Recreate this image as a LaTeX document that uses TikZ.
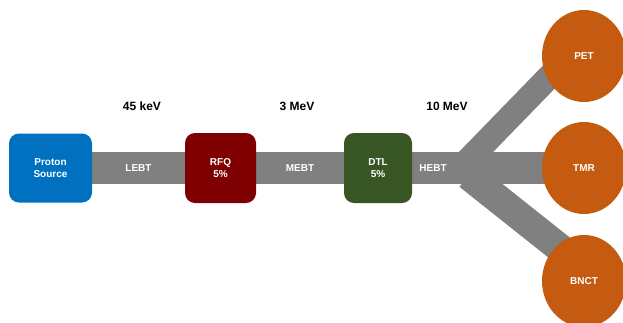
\documentclass[tikz,border=0pt]{standalone}
\usepackage{fontspec}
\setmainfont{Liberation Sans}
\usetikzlibrary{shapes.geometric}
\pgfdeclarelayer{background}
\pgfsetlayers{background,main}
\definecolor{srcblue}{HTML}{0070C0}
\definecolor{rfqred}{HTML}{7F0000}
\definecolor{dtlgreen}{HTML}{375623}
\definecolor{tgtorange}{HTML}{C55A11}
\definecolor{beamgrey}{HTML}{808080}
\tikzset{
  stagebox/.style={rounded corners=10pt, draw=none, text=white, font=\bfseries\fontsize{10}{12}\selectfont, align=center, inner sep=0pt},
  target/.style={ellipse, fill=tgtorange, draw=none, text=white, font=\bfseries\fontsize{10}{12}\selectfont, minimum width=84pt, minimum height=92pt, inner sep=0pt},
  beam/.style={draw=beamgrey, line width=32pt},
  beamlabel/.style={text=white, font=\bfseries\fontsize{10}{12}\selectfont, inner sep=0pt},
  energy/.style={text=black, font=\bfseries\fontsize{12}{14}\selectfont, inner sep=0pt}
}
\begin{document}
\begin{tikzpicture}[x=1pt,y=-1pt]
\useasboundingbox (0,0) rectangle (623,322);
\clip (0,0) rectangle (623,322);
% stages
\node[stagebox, fill=srcblue, minimum width=83pt, minimum height=69pt] (src) at (50.5,168) {Proton\\Source};
\node[stagebox, fill=rfqred, minimum width=71pt, minimum height=70pt] (rfq) at (220.5,168) {RFQ\\5\%};
\node[stagebox, fill=dtlgreen, minimum width=68pt, minimum height=70pt] (dtl) at (378,168) {DTL\\5\%};
% targets
\node[target] (pet) at (584,56) {PET};
\node[target] (tmr) at (584,168) {TMR};
\node[target] (bnct) at (584,281) {BNCT};
% energies
\node[energy] (e1) at (142,106) {45 keV};
\node[energy] (e2) at (297,106) {3 MeV};
\node[energy] (e3) at (447,106) {10 MeV};
% arm coordinates
\coordinate (upA) at (462,166.4);
\coordinate (upB) at (581,44);
\coordinate (loA) at (468.5,175.5);
\coordinate (loB) at (577.7,262.3);
\begin{pgfonlayer}{background}
\draw[beam] (src.east) -- node[beamlabel]{LEBT} (rfq.west);
\draw[beam] (rfq.east) -- node[beamlabel]{MEBT} (dtl.west);
\draw[beam] (dtl.east) -- (tmr.center);
\draw[draw=beamgrey, line width=24.5pt] (upA) -- (upB);
\draw[draw=beamgrey, line width=29pt] (loA) -- (loB);
\end{pgfonlayer}
\node[beamlabel] (hebt) at (433,168) {HEBT};
\end{tikzpicture}
\end{document}
